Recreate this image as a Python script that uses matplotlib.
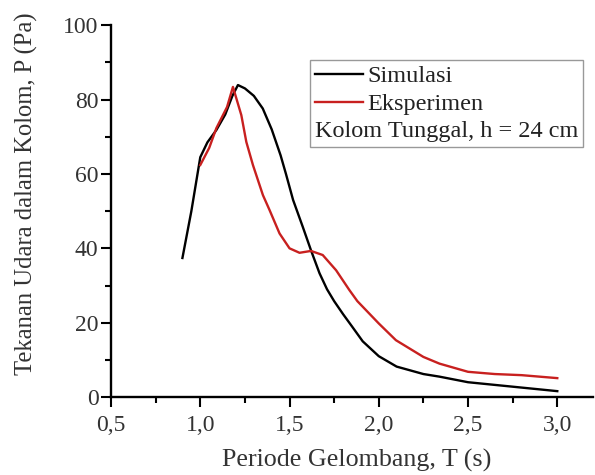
import matplotlib
matplotlib.use("Agg")
import matplotlib.pyplot as plt
from matplotlib.lines import Line2D
from matplotlib.ticker import FixedLocator, FixedFormatter, MultipleLocator

# Simulasi (black)
sim_T = [0.90, 0.95, 1.00, 1.04, 1.09, 1.14, 1.18, 1.211, 1.25, 1.30, 1.35, 1.40, 1.45,
         1.48, 1.52, 1.574, 1.62, 1.668, 1.71, 1.75, 1.80, 1.85, 1.91, 2.00, 2.10,
         2.25, 2.34, 2.50, 2.75, 3.00]
sim_P = [37.4, 50.0, 64.5, 68.5, 71.8, 76.0, 81.0, 83.9, 83.0, 81.0, 77.6, 72.0, 65.0,
         60.0, 53.0, 45.8, 39.5, 33.3, 29.0, 25.8, 22.3, 19.0, 15.0, 11.0, 8.2,
         6.2, 5.5, 4.0, 2.8, 1.6]

# Eksperimen (red)
eks_T = [1.00, 1.05, 1.09, 1.15, 1.183, 1.23, 1.258, 1.295, 1.351, 1.388, 1.444, 1.50,
         1.556, 1.62, 1.686, 1.761, 1.835, 1.88, 2.00, 2.096, 2.25, 2.34, 2.50, 2.65,
         2.80, 3.00]
eks_P = [62.4, 67.0, 72.3, 78.0, 83.4, 75.8, 68.6, 62.4, 54.3, 50.3, 44.0, 40.0,
         38.8, 39.3, 38.2, 34.1, 28.8, 25.8, 19.8, 15.3, 10.8, 9.0, 6.8, 6.2,
         5.9, 5.1]

xticks = [0.5, 1.0, 1.5, 2.0, 2.5, 3.0]
xtick_labels = ["0,5", "1,0", "1,5", "2,0", "2,5", "3,0"]
yticks = [0, 20, 40, 60, 80, 100]

plt.rcParams['font.family'] = ['Liberation Serif', 'DejaVu Serif']

fig = plt.figure(figsize=(5.95, 4.75), dpi=100)
ax = fig.add_axes([0.1866, 0.164, 0.81, 0.783])

ax.plot(sim_T, sim_P, color='black', lw=1.7, label='Simulasi', solid_joinstyle='round')
ax.plot(eks_T, eks_P, color='#c8201f', lw=1.7, label='Eksperimen', solid_joinstyle='round')

ax.set_xlim(0.5, 3.2)
ax.set_ylim(0, 100)
ax.xaxis.set_major_locator(FixedLocator(xticks))
ax.xaxis.set_major_formatter(FixedFormatter(xtick_labels))
ax.xaxis.set_minor_locator(MultipleLocator(0.25))
ax.yaxis.set_major_locator(FixedLocator(yticks))
ax.yaxis.set_minor_locator(MultipleLocator(10))

for s in ['top', 'right']:
    ax.spines[s].set_visible(False)
for s in ['left', 'bottom']:
    ax.spines[s].set_linewidth(1.7)

ax.tick_params(which='major', direction='out', length=7, width=1.5, labelsize=17,
               labelcolor='#333333')
ax.tick_params(axis='x', which='major', pad=6)
ax.tick_params(axis='y', which='major', pad=2)
ax.tick_params(which='minor', direction='out', length=4, width=1.5)

ax.set_xlabel('Periode Gelombang, T (s)', fontsize=18.7, color='#333333')
ax.set_ylabel('Tekanan Udara dalam Kolom, P (Pa)', fontsize=17.7, color='#333333')
ax.xaxis.set_label_coords(0.51, -0.14)
ax.yaxis.set_label_coords(-0.152, 0.548)

handles = [Line2D([], [], color='black', lw=1.7),
           Line2D([], [], color='#c8201f', lw=1.7),
           Line2D([], [], color='none')]
labels = ['Simulasi', 'Eksperimen', 'Kolom Tunggal, h = 24 cm']
leg = ax.legend(handles, labels, loc='upper right', bbox_to_anchor=(0.979, 0.906),
                borderaxespad=0, fancybox=False, edgecolor='#999999', fontsize=17.5,
                handlelength=2.0, handletextpad=0.15, labelspacing=0.25,
                borderpad=0.2, framealpha=1, labelcolor='#222222')
leg.get_frame().set_linewidth(1.0)
# third entry has no handle: drop its handle box so the text starts at the frame
rows = leg._legend_handle_box.get_children()[0].get_children()
rows[2].get_children().pop(0)

fig.savefig('out.png', dpi=100)
